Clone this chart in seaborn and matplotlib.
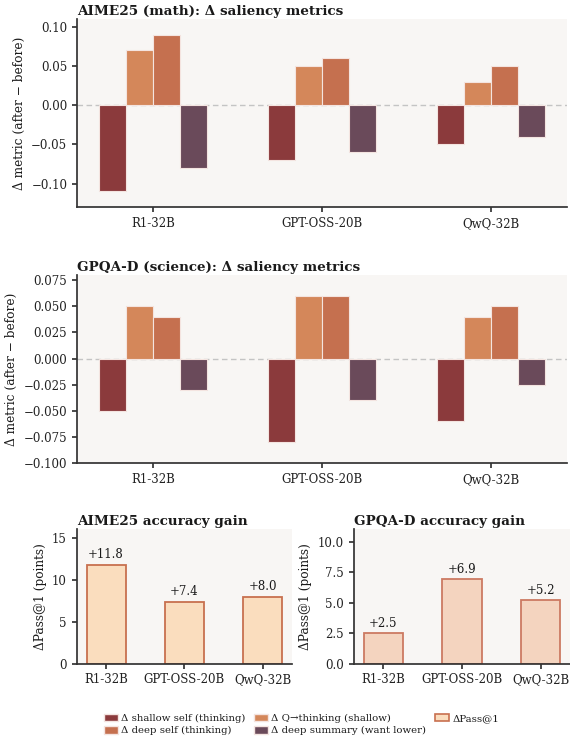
import numpy as np
import pandas as pd
import matplotlib
matplotlib.use("Agg")
import matplotlib.pyplot as plt
import seaborn as sns
from matplotlib.patches import Patch

# ---------------- data ----------------
models = ["R1-32B", "GPT-OSS-20B", "QwQ-32B"]
metrics = ["Δ shallow self (thinking)", "Δ Q→thinking (shallow)",
           "Δ deep self (thinking)", "Δ deep summary (want lower)"]

aime_shallow_self = [-0.11, -0.07, -0.05]
aime_q_thinking = [0.07, 0.05, 0.03]
aime_deep_self = [0.09, 0.06, 0.05]
aime_deep_summary = [-0.08, -0.06, -0.04]

gpqa_shallow_self = [-0.05, -0.08, -0.06]
gpqa_q_thinking = [0.05, 0.06, 0.04]
gpqa_deep_self = [0.04, 0.06, 0.05]
gpqa_deep_summary = [-0.03, -0.04, -0.025]

aime_gain = [11.8, 7.4, 8.0]
gpqa_gain = [2.5, 6.9, 5.2]

# ---------------- style ----------------
sns.set_theme(style="ticks")
plt.rcParams["font.family"] = ["DejaVu Serif"]
plt.rcParams["axes.facecolor"] = "#F8F6F4"
plt.rcParams["axes.edgecolor"] = "#333333"
plt.rcParams["text.color"] = "#1a1a1a"
plt.rcParams["xtick.color"] = "#333333"
plt.rcParams["ytick.color"] = "#333333"
plt.rcParams["xtick.labelcolor"] = "#222222"
plt.rcParams["ytick.labelcolor"] = "#222222"
plt.rcParams["axes.labelcolor"] = "#1a1a1a"

metric_colors = ["#8B3A3C", "#D4875A", "#C5704F", "#6A4A5A"]

fig = plt.figure(figsize=(5.7, 7.42), dpi=100)
ax1 = fig.add_axes([0.1351, 0.7210, 0.8596, 0.2534])
ax2 = fig.add_axes([0.1351, 0.3760, 0.8596, 0.2534])
ax3 = fig.add_axes([0.1346, 0.1055, 0.3777, 0.1811])
ax4 = fig.add_axes([0.6205, 0.1055, 0.3795, 0.1811])


def long_df(series):
    rows = []
    for m, vals in zip(metrics, series):
        for mod, v in zip(models, vals):
            rows.append({"model": mod, "metric": m, "value": v})
    return pd.DataFrame(rows)


def saliency(ax, series, title):
    df = long_df(series)
    sns.barplot(data=df, x="model", y="value", hue="metric", order=models,
                hue_order=metrics, palette=metric_colors, width=0.64,
                edgecolor="#F4E4E0", linewidth=0.8, ax=ax, legend=False,
                errorbar=None, saturation=1)
    ax.axhline(0, color="#C4C4C4", lw=1.0, ls=(0, (4, 2.5)), zorder=0.5)
    vals = df["value"].to_numpy()
    ax.set_ylim(vals.min() - 0.02, vals.max() + 0.02)
    ax.set_xlim(-0.452, 2.452)
    ax.set_xlabel("")
    ax.set_ylabel("Δ metric (after − before)", fontsize=8.7)
    ax.set_title(title, loc="left", fontweight="bold", fontsize=9.7, pad=3)
    ax.tick_params(labelsize=8.5, length=3.5)
    sns.despine(ax=ax)


saliency(ax1, [aime_shallow_self, aime_q_thinking, aime_deep_self, aime_deep_summary],
         "AIME25 (math): Δ saliency metrics")
saliency(ax2, [gpqa_shallow_self, gpqa_q_thinking, gpqa_deep_self, gpqa_deep_summary],
         "GPQA-D (science): Δ saliency metrics")
ax1.set_yticks([-0.10, -0.05, 0.0, 0.05, 0.10])
ax1.set_yticklabels(["−0.10", "−0.05", "0.00", "0.05", "0.10"])
ax2.set_yticks([-0.1, -0.075, -0.05, -0.025, 0.0, 0.025, 0.05, 0.075])
ax2.set_yticklabels(["−0.100", "−0.075", "−0.050", "−0.025", "0.000", "0.025", "0.050", "0.075"])


def gain(ax, vals, fill, edge, title, top, ticks, fmt):
    df = pd.DataFrame({"model": models, "gain": vals})
    sns.barplot(data=df, x="model", y="gain", order=models, color=fill,
                width=0.5, edgecolor=edge, linewidth=1.3, ax=ax,
                errorbar=None, saturation=1)
    for i, v in enumerate(vals):
        ax.annotate(f"+{v:.1f}", (i, v), xytext=(0, 2.5), textcoords="offset points",
                    ha="center", va="bottom", fontsize=8.5)
    ax.set_xlim(-0.375, 2.375)
    ax.set_ylim(0, top)
    ax.set_yticks(ticks)
    ax.set_yticklabels([fmt.format(t) for t in ticks])
    ax.set_xlabel("")
    ax.set_ylabel("ΔPass@1 (points)", fontsize=8.7)
    ax.set_title(title, loc="left", fontweight="bold", fontsize=9.7, pad=3)
    ax.tick_params(labelsize=8.5, length=3.5)
    sns.despine(ax=ax)


gain(ax3, aime_gain, "#FADDBE", "#C8704F", "AIME25 accuracy gain", 16.0,
     [0, 5, 10, 15], "{:.0f}")
gain(ax4, gpqa_gain, "#F4D4BF", "#CC7A62", "GPQA-D accuracy gain", 11.0,
     [0, 2.5, 5, 7.5, 10], "{:.1f}")

handles = [Patch(facecolor=c, edgecolor="#F4E4E0", label=m)
           for c, m in zip(metric_colors, metrics)]
handles.append(Patch(facecolor="#FADDBE", edgecolor="#C8704F", linewidth=1.2, label="ΔPass@1"))
order = [0, 2, 1, 3, 4]
fig.legend([handles[i] for i in order], [handles[i].get_label() for i in order],
           loc="center", bbox_to_anchor=(0.529, 0.0235), ncol=3, frameon=False,
           fontsize=7.3, handlelength=1.4, handleheight=0.8, handletextpad=0.3,
           columnspacing=0.85, labelspacing=0.3, borderpad=0.2)

fig.savefig("out.png", dpi=100, facecolor="white")
